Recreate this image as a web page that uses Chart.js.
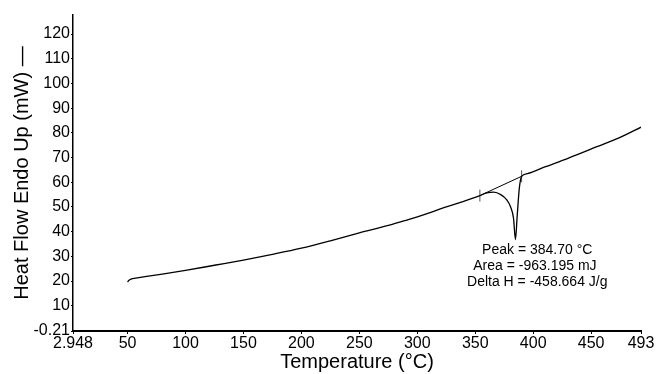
<!DOCTYPE html>
<html>
<head>
<meta charset="utf-8">
<script src="https://cdn.jsdelivr.net/npm/chart.js@4"></script>
<style>
  html, body { margin: 0; padding: 0; background: #fff; }
</style>
</head>
<body>
<canvas id="dsc" width="657" height="374"></canvas>
<script>
// heat flow curve
const temps = [50, 51, 53, 57, 65, 80, 100, 125, 150, 175, 200, 225, 250, 275, 291, 300, 325, 340, 354,
  360, 366, 372, 377, 380.5, 383, 384.7, 386.2, 388, 390, 395, 410, 430, 455, 475, 493];
const heatFlow = [19.6, 20.2, 20.8, 21.2, 21.8, 22.8, 24.3, 26.4, 28.5, 30.8, 33.3, 36.3, 39.5, 42.5, 44.7, 46.0, 50.0, 52.3, 54.6,
  55.7, 56.0, 55.0, 53.0, 50.0, 45.5, 36.8, 46.5, 57.5, 62.4, 63.5, 66.2, 69.7, 74.4, 78.2, 82.3];

// integration baseline under the peak
const baseTemps = [354, 390];
const baseFlow = [54.6, 62.4];

// axis ticks as printed
const xTicks = [2.948, 50, 100, 150, 200, 250, 300, 350, 400, 450, 493];
const yTicks = [-0.21, 10, 20, 30, 40, 50, 60, 70, 80, 90, 100, 110, 120];

const peakLines = ['Peak = 384.70 °C', 'Area = -963.195 mJ', 'Delta H = -458.664 J/g'];
const peakCenters = [403.5, 401.5, 403.5]; // in °C, where each line is centred

const toXY = (xs, ys) => xs.map((x, i) => ({ x: x, y: ys[i] }));

const peakText = {
  id: 'peakText',
  afterDraw(chart) {
    const ctx = chart.ctx;
    const xs = chart.scales.x, ys = chart.scales.y;
    let y = ys.getPixelForValue(32.6);
    ctx.save();
    ctx.fillStyle = '#000';
    ctx.font = '14px "Liberation Sans", Arial, sans-serif';
    ctx.textAlign = 'center';
    ctx.textBaseline = 'middle';
    peakLines.forEach((t, i) => { ctx.fillText(t, xs.getPixelForValue(peakCenters[i]), y); y += 16; });
    ctx.restore();
  }
};

new Chart(document.getElementById('dsc'), {
  type: 'scatter',
  data: {
    datasets: [
      {
        data: toXY(temps, heatFlow),
        showLine: true,
        borderColor: '#000',
        borderWidth: 1.3,
        pointRadius: 0,
        cubicInterpolationMode: 'monotone'
      },
      {
        data: toXY(baseTemps, baseFlow),
        showLine: true,
        borderColor: '#000',
        borderWidth: 1,
        pointStyle: 'line',
        rotation: 90,
        pointRadius: 6,
        pointBorderColor: '#555',
        pointBorderWidth: 1
      }
    ]
  },
  options: {
    responsive: false,
    animation: false,
    layout: { padding: { left: 0, right: 16, top: 15, bottom: 0 } },
    plugins: { legend: { display: false }, tooltip: { enabled: false } },
    scales: {
      x: {
        type: 'linear',
        min: 2.948,
        max: 493,
        afterBuildTicks: s => { s.ticks = xTicks.map(v => ({ value: v })); },
        afterFit: s => { s.height = 43; },
        border: { color: '#000', width: 2 },
        grid: { display: true, drawOnChartArea: false, color: '#000', tickLength: 3 },
        ticks: {
          color: '#000',
          font: { family: '"Liberation Sans", Arial', size: 16 },
          padding: 0,
          maxRotation: 0,
          autoSkip: false,
          callback: v => String(v)
        },
        title: {
          display: true,
          text: 'Temperature (°C)',
          color: '#000',
          font: { family: '"Liberation Sans", Arial', size: 20 },
          padding: { top: -6, bottom: 0 }
        }
      },
      y: {
        type: 'linear',
        min: -0.21,
        max: 127.7,
        afterBuildTicks: s => { s.ticks = yTicks.map(v => ({ value: v })); },
        afterFit: s => { s.width = 73; },
        border: { color: '#000', width: 1.5 },
        grid: { display: true, drawOnChartArea: false, color: '#000', tickLength: 2 },
        ticks: {
          color: '#000',
          font: { family: '"Liberation Sans", Arial', size: 16 },
          padding: 1,
          autoSkip: false,
          callback: v => String(v)
        },
        title: {
          display: true,
          text: 'Heat Flow Endo Up (mW) \u2014',
          color: '#000',
          font: { family: '"Liberation Sans", Arial', size: 20 },
          padding: { top: 10, bottom: 0 }
        }
      }
    }
  },
  plugins: [peakText]
});
</script>
</body>
</html>
